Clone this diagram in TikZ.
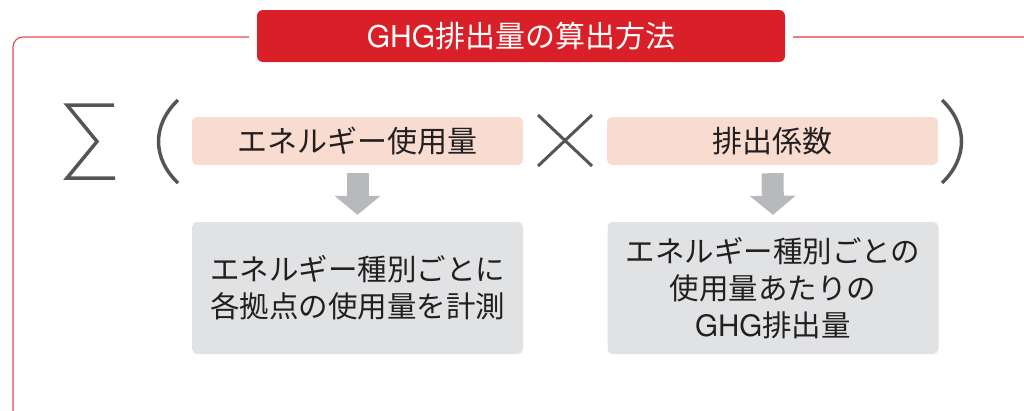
\documentclass[tikz,border=0pt]{standalone}
\usepackage{fontspec}
\setmainfont{Noto Sans CJK JP}
\newfontfamily\heros{TeX Gyre Heros}
\usetikzlibrary{arrows.meta}
\definecolor{framered}{HTML}{DC2A31}
\definecolor{titlered}{HTML}{D92028}
\definecolor{pinkbox}{HTML}{F8DCD0}
\definecolor{graybox}{HTML}{E1E2E3}
\definecolor{arrowgray}{HTML}{B8B9BC}
\definecolor{symgray}{HTML}{555555}
\definecolor{txt}{HTML}{231F20}
\tikzset{
  pinkstyle/.style={fill=pinkbox, rounded corners=5pt, minimum width=331pt, minimum height=48pt, inner sep=0pt, text=txt, font=\fontsize{30pt}{36pt}\selectfont},
  graystyle/.style={fill=graybox, rounded corners=5pt, minimum width=331pt, minimum height=132pt, inner sep=0pt, text=txt, align=center, font=\fontsize{29.5pt}{37pt}\selectfont},
  blockarrow/.style={draw=arrowgray, line width=22pt, -{Triangle[length=19pt,width=45pt]}},
  symline/.style={draw=symgray, line width=3.5pt}
}
\begin{document}
\begin{tikzpicture}[x=1pt,y=-1pt]
\useasboundingbox (0,0) rectangle (1024,410);
% frame
\draw[framered!85, line width=1.1pt, rounded corners=10pt] (249,37) -| (13,412);
\draw[framered!60, line width=1.1pt] (793,37) -- (1026,37);
% title
\node[fill=titlered, rounded corners=6pt, minimum width=528pt, minimum height=52pt, inner sep=0pt, text=white, font=\fontsize{30pt}{34pt}\selectfont] (title) at (521,36) {{\heros GHG}排出量の算出方法};
% sigma
\draw[symline, line join=miter] (114,105) -- (67,105) -- (97,141.5) -- (67,178) -- (115,178);
% parentheses
\draw[symline] (178,100) .. controls (152,125) and (152,158) .. (178,183);
\draw[symline] (942,100) .. controls (968,125) and (968,158) .. (942,183);
% cross
\draw[symline, line width=3pt] (538,115) -- (592,166);
\draw[symline, line width=3pt] (538,166) -- (592,115);
% boxes
\node[pinkstyle] (e1) at (357.5,141) {エネルギー使用量};
\node[pinkstyle] (e2) at (772.5,141) {排出係数};
\node[graystyle] (g1) at (357.5,288) {エネルギー種別ごとに\\各拠点の使用量を計測};
\node[graystyle] (g2) at (773,288) {エネルギー種別ごとの\\使用量あたりの\\{\heros GHG}排出量};
% arrows
\draw[blockarrow] ([yshift=-8pt]e1.south) -- ([yshift=7pt]g1.north);
\draw[blockarrow] ([yshift=-8pt]e2.south) -- ([yshift=7pt]g2.north);
\end{tikzpicture}
\end{document}
